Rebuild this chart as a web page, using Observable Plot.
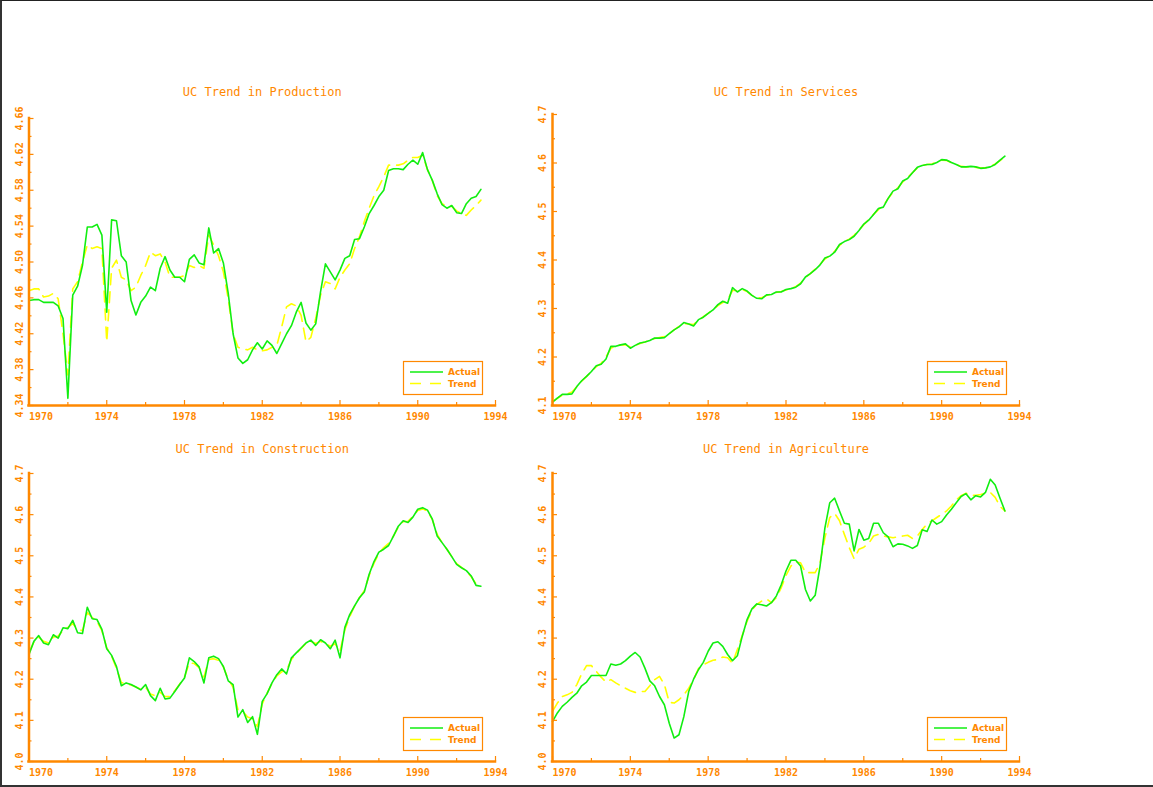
<!DOCTYPE html>
<html>
<head>
<meta charset="utf-8">
<script src="https://cdn.jsdelivr.net/npm/d3@7"></script>
<script src="https://cdn.jsdelivr.net/npm/@observablehq/plot@0.6"></script>
<style>
  html, body { margin: 0; padding: 0; background: #fff; }
  #page { position: relative; width: 1153px; height: 787px; background: #fff; overflow: hidden; }
  #edge { position: absolute; left: 0; top: 0; width: 1153px; height: 787px; box-sizing: border-box;
          border-left: 2px solid #333; border-top: 1px solid #222; border-bottom: 2px solid #333; pointer-events: none; }
</style>
</head>
<body>
<div id="page"><div id="edge"></div></div>
<script>
// Quarterly observations, first quarter of 1970 onwards (log levels)
const startYear = 1970;

const prodActual = [
  4.457,4.458,4.458,4.455,4.455,4.455,4.451,4.437,4.348,4.463,4.473,4.496,
  4.539,4.539,4.542,4.530,4.444,4.547,4.546,4.507,4.500,4.457,4.441,4.455,
  4.462,4.472,4.468,4.493,4.506,4.491,4.483,4.483,4.478,4.503,4.508,4.499,
  4.497,4.538,4.510,4.515,4.499,4.465,4.420,4.393,4.387,4.391,4.402,4.410,
  4.403,4.412,4.407,4.398,4.409,4.420,4.429,4.444,4.455,4.432,4.424,4.431,
  4.467,4.498,4.489,4.480,4.491,4.504,4.507,4.525,4.526,4.539,4.554,4.563,
  4.573,4.580,4.602,4.604,4.604,4.603,4.609,4.6135,4.609,4.622,4.603,4.591,
  4.576,4.564,4.560,4.563,4.555,4.554,4.565,4.571,4.573,4.581
];
const prodTrend = [
  4.468,4.470,4.470,4.461,4.462,4.465,4.459,4.420,4.374,4.470,4.478,4.500,
  4.519,4.515,4.517,4.515,4.411,4.493,4.502,4.483,4.480,4.468,4.472,4.485,
  4.496,4.511,4.507,4.509,4.500,4.483,4.483,4.483,4.485,4.496,4.494,4.496,
  4.493,4.530,4.519,4.507,4.489,4.459,4.420,4.405,4.403,4.402,4.405,4.402,
  4.401,4.402,4.405,4.407,4.4275,4.450,4.4535,4.451,4.4405,4.411,4.416,4.437,
  4.463,4.478,4.476,4.470,4.483,4.491,4.498,4.515,4.528,4.545,4.560,4.574,
  4.584,4.595,4.608,4.608,4.608,4.6095,4.6135,4.6165,4.6165,4.619,4.603,4.591,
  4.574,4.565,4.562,4.562,4.557,4.554,4.552,4.558,4.563,4.569
];

const servActual = [
  4.107,4.115,4.123,4.123,4.124,4.139,4.151,4.160,4.170,4.182,4.185,4.196,
  4.222,4.222,4.225,4.227,4.218,4.224,4.229,4.231,4.234,4.239,4.239,4.240,
  4.248,4.256,4.262,4.271,4.268,4.264,4.277,4.282,4.290,4.297,4.308,4.315,
  4.311,4.343,4.334,4.341,4.336,4.327,4.321,4.320,4.328,4.329,4.334,4.334,
  4.339,4.341,4.344,4.351,4.365,4.372,4.380,4.390,4.404,4.408,4.416,4.432,
  4.438,4.442,4.449,4.461,4.474,4.482,4.494,4.506,4.509,4.527,4.542,4.547,
  4.563,4.568,4.580,4.591,4.595,4.597,4.597,4.601,4.607,4.606,4.601,4.597,
  4.592,4.592,4.593,4.592,4.589,4.590,4.592,4.597,4.606,4.614
];
const servTrend = [
  4.108,4.115,4.121,4.124,4.128,4.139,4.150,4.160,4.170,4.180,4.187,4.200,
  4.218,4.223,4.225,4.225,4.221,4.224,4.228,4.231,4.234,4.238,4.240,4.242,
  4.248,4.256,4.263,4.269,4.268,4.267,4.276,4.283,4.290,4.298,4.306,4.312,
  4.318,4.337,4.337,4.339,4.335,4.327,4.322,4.322,4.327,4.330,4.333,4.335,
  4.338,4.341,4.345,4.352,4.364,4.372,4.381,4.391,4.402,4.409,4.418,4.430,
  4.438,4.443,4.451,4.462,4.473,4.483,4.494,4.504,4.512,4.527,4.540,4.549,
  4.561,4.570,4.580,4.590,4.595,4.597,4.598,4.602,4.606,4.605,4.601,4.597,
  4.593,4.592,4.592,4.591,4.590,4.590,4.593,4.598,4.605,4.613
];

const consActual = [
  4.260,4.292,4.306,4.288,4.284,4.308,4.300,4.325,4.323,4.343,4.313,4.311,
  4.375,4.347,4.345,4.321,4.274,4.258,4.231,4.184,4.191,4.187,4.181,4.174,
  4.187,4.160,4.148,4.178,4.152,4.154,4.170,4.187,4.203,4.252,4.243,4.230,
  4.191,4.252,4.256,4.250,4.231,4.196,4.187,4.108,4.126,4.095,4.109,4.066,
  4.146,4.165,4.191,4.211,4.225,4.213,4.252,4.264,4.276,4.288,4.295,4.282,
  4.296,4.288,4.274,4.295,4.252,4.326,4.357,4.378,4.398,4.412,4.455,4.486,
  4.509,4.516,4.525,4.548,4.572,4.585,4.581,4.594,4.613,4.617,4.611,4.589,
  4.548,4.532,4.516,4.498,4.479,4.471,4.464,4.451,4.428,4.426
];
const consTrend = [
  4.266,4.290,4.302,4.292,4.288,4.302,4.305,4.318,4.326,4.335,4.322,4.318,
  4.362,4.350,4.340,4.318,4.276,4.256,4.226,4.192,4.188,4.186,4.181,4.176,
  4.180,4.164,4.160,4.168,4.158,4.158,4.172,4.188,4.205,4.240,4.238,4.228,
  4.205,4.248,4.250,4.246,4.230,4.200,4.180,4.126,4.122,4.108,4.104,4.085,
  4.140,4.166,4.190,4.208,4.218,4.222,4.248,4.262,4.275,4.287,4.292,4.287,
  4.292,4.287,4.280,4.286,4.268,4.320,4.352,4.378,4.398,4.415,4.452,4.482,
  4.506,4.520,4.530,4.548,4.570,4.583,4.584,4.596,4.610,4.614,4.609,4.588,
  4.552,4.532,4.516,4.498,4.481,4.472,4.463,4.449,4.432,4.428
];

const agriActual = [
  4.097,4.118,4.134,4.144,4.156,4.166,4.184,4.193,4.209,4.209,4.209,4.209,
  4.237,4.234,4.237,4.245,4.256,4.265,4.254,4.227,4.196,4.184,4.158,4.138,
  4.093,4.057,4.065,4.109,4.170,4.200,4.223,4.241,4.268,4.288,4.291,4.280,
  4.260,4.245,4.257,4.304,4.345,4.371,4.383,4.381,4.378,4.386,4.402,4.429,
  4.463,4.489,4.489,4.475,4.418,4.390,4.404,4.475,4.568,4.629,4.640,4.609,
  4.579,4.577,4.512,4.564,4.538,4.542,4.579,4.579,4.556,4.546,4.522,4.529,
  4.528,4.524,4.518,4.525,4.563,4.559,4.587,4.577,4.583,4.599,4.613,4.629,
  4.644,4.651,4.636,4.646,4.643,4.654,4.686,4.672,4.640,4.609
];
const agriTrend = [
  4.122,4.142,4.158,4.162,4.168,4.187,4.213,4.233,4.233,4.219,4.205,4.193,
  4.199,4.191,4.184,4.178,4.172,4.168,4.170,4.170,4.184,4.199,4.207,4.187,
  4.144,4.142,4.150,4.162,4.178,4.199,4.226,4.235,4.241,4.246,4.248,4.254,
  4.252,4.239,4.272,4.306,4.341,4.368,4.382,4.390,4.395,4.386,4.398,4.422,
  4.452,4.475,4.485,4.483,4.459,4.459,4.459,4.483,4.544,4.593,4.603,4.585,
  4.552,4.520,4.493,4.516,4.521,4.530,4.548,4.552,4.548,4.546,4.544,4.546,
  4.548,4.550,4.542,4.548,4.564,4.577,4.585,4.593,4.601,4.609,4.621,4.636,
  4.646,4.652,4.647,4.647,4.649,4.652,4.654,4.642,4.620,4.609
];

// Panel titles and axis ticks
const titles = ["UC Trend in Production", "UC Trend in Services", "UC Trend in Construction", "UC Trend in Agriculture"];
const seriesNames = ["Actual", "Trend"];
const xDomain = [1970, 1994];
const xLabelFirst = [1970];
const xLabelRest = [1974, 1978, 1982, 1986, 1990, 1994];
const xMinor = [1972, 1976, 1980, 1984, 1988, 1992];
const prodYDomain = [4.34, 4.66];
const prodYTicks = [4.34, 4.38, 4.42, 4.46, 4.50, 4.54, 4.58, 4.62, 4.66];
const prodYMinor = [4.36, 4.40, 4.44, 4.48, 4.52, 4.56, 4.60, 4.64];
const servYDomain = [4.1, 4.7];
const servYTicks = [4.1, 4.2, 4.3, 4.4, 4.5, 4.6, 4.7];
const servYMinor = [4.15, 4.25, 4.35, 4.45, 4.55, 4.65];
const lowYDomain = [4.0, 4.7];
const lowYTicks = [4.0, 4.1, 4.2, 4.3, 4.4, 4.5, 4.6, 4.7];
const lowYMinor = [4.05, 4.15, 4.25, 4.35, 4.45, 4.55, 4.65];

const orange = "#ff8800";
const green = "#11ee11";
const yellow = "#ffff00";
const font = "'DejaVu Sans Mono', monospace";

const panels = [
  {title: titles[0], actual: prodActual, trend: prodTrend, yDomain: prodYDomain, yTicks: prodYTicks, yMinor: prodYMinor, fmt: d3.format(".2f"),
   left: 0, top: 70, width: 526, height: 360, mLeft: 28.5, mRight: 31, mTop: 48, mBottom: 25, titleDy: -26},
  {title: titles[1], actual: servActual, trend: servTrend, yDomain: servYDomain, yTicks: servYTicks, yMinor: servYMinor, fmt: d3.format(".1f"),
   left: 526, top: 70, width: 526, height: 360, mLeft: 26, mRight: 33, mTop: 44, mBottom: 25, titleDy: -22.5},
  {title: titles[2], actual: consActual, trend: consTrend, yDomain: lowYDomain, yTicks: lowYTicks, yMinor: lowYMinor, fmt: d3.format(".1f"),
   left: 0, top: 430, width: 526, height: 357, mLeft: 28.5, mRight: 31, mTop: 43, mBottom: 26, titleDy: -24},
  {title: titles[3], actual: agriActual, trend: agriTrend, yDomain: lowYDomain, yTicks: lowYTicks, yMinor: lowYMinor, fmt: d3.format(".1f"),
   left: 526, top: 430, width: 526, height: 357, mLeft: 26, mRight: 33, mTop: 43, mBottom: 26, titleDy: -24}
];

const page = document.getElementById("page");

function legendBox(left, top) {
  const svg = d3.create("svg")
    .attr("width", 80).attr("height", 35)
    .style("position", "absolute").style("left", left + "px").style("top", top + "px")
    .style("overflow", "visible");
  svg.append("rect").attr("x", 0.5).attr("y", 0.5).attr("width", 79).attr("height", 33)
    .attr("fill", "#fff").attr("stroke", orange).attr("stroke-width", 1.2);
  svg.append("line").attr("x1", 7).attr("x2", 40).attr("y1", 11).attr("y2", 11)
    .attr("stroke", green).attr("stroke-width", 1.6);
  svg.append("line").attr("x1", 7).attr("x2", 40).attr("y1", 22.5).attr("y2", 22.5)
    .attr("stroke", yellow).attr("stroke-width", 1.6).attr("stroke-dasharray", "11,9");
  [11, 23].forEach((y, k) => {
    svg.append("text").attr("x", 45).attr("y", y).attr("dy", "0.35em")
      .attr("fill", orange).attr("font-family", "'DejaVu Sans', sans-serif")
      .attr("font-size", 9).attr("font-weight", "bold").text(seriesNames[k]);
  });
  return svg.node();
}

for (const p of panels) {
  const rows = p.actual.map((v, i) => ({t: startYear + i / 4, actual: v, trend: p.trend[i]}));
  const chart = Plot.plot({
    width: p.width,
    height: p.height,
    marginLeft: p.mLeft,
    marginRight: p.mRight,
    marginTop: p.mTop,
    marginBottom: p.mBottom,
    x: {domain: xDomain, label: null},
    y: {domain: p.yDomain, label: null},
    style: {background: "none", color: orange, fontFamily: font, fontSize: "10px", overflow: "visible"},
    marks: [
      Plot.line(rows, {x: "t", y: "trend", stroke: yellow, strokeWidth: 1.6, strokeDasharray: "11,7"}),
      Plot.line(rows, {x: "t", y: "actual", stroke: green, strokeWidth: 1.6}),
      // axis lines
      Plot.ruleX([xDomain[0]], {stroke: orange, strokeWidth: 2.5, strokeLinecap: "square"}),
      Plot.ruleY([p.yDomain[0]], {stroke: orange, strokeWidth: 2.5, strokeLinecap: "square"}),
      // inward ticks
      Plot.axisX({ticks: [...xLabelFirst, ...xLabelRest], tickSize: -5, tickFormat: () => "", label: null, stroke: orange, strokeWidth: 1.2}),
      Plot.axisX({ticks: xMinor, tickSize: -3, tickFormat: () => "", label: null, stroke: orange, strokeWidth: 1.2}),
      Plot.axisY({ticks: p.yTicks, tickSize: -5, tickFormat: () => "", label: null, stroke: orange, strokeWidth: 1.2}),
      Plot.axisY({ticks: p.yMinor, tickSize: -3, tickFormat: () => "", label: null, stroke: orange, strokeWidth: 1.2}),
      // tick labels
      Plot.axisX({ticks: xLabelFirst, tickSize: 0, tickPadding: 7, textAnchor: "start", tickFormat: d => String(d), label: null, fill: orange, fontSize: 10, fontWeight: "bold"}),
      Plot.axisX({ticks: xLabelRest, tickSize: 0, tickPadding: 7, tickFormat: d => String(d), label: null, fill: orange, fontSize: 10, fontWeight: "bold"}),
      Plot.axisY({ticks: p.yTicks, tickSize: 0, tickPadding: 6.5, tickRotate: -90, tickFormat: p.fmt, label: null, fill: orange, fontSize: 10, fontWeight: "bold"}),
      // title
      Plot.text([p.title], {text: d => d, frameAnchor: "top", lineAnchor: "middle", dy: p.titleDy, fill: orange, fontSize: 12, fontFamily: font})
    ]
  });
  chart.style.position = "absolute";
  chart.style.left = p.left + "px";
  chart.style.top = p.top + "px";
  page.appendChild(chart);
  const plotRight = p.left + p.width - p.mRight;
  const plotBottom = p.top + p.height - p.mBottom;
  page.appendChild(legendBox(plotRight - 92, plotBottom - 44));
}
</script>
</body>
</html>
